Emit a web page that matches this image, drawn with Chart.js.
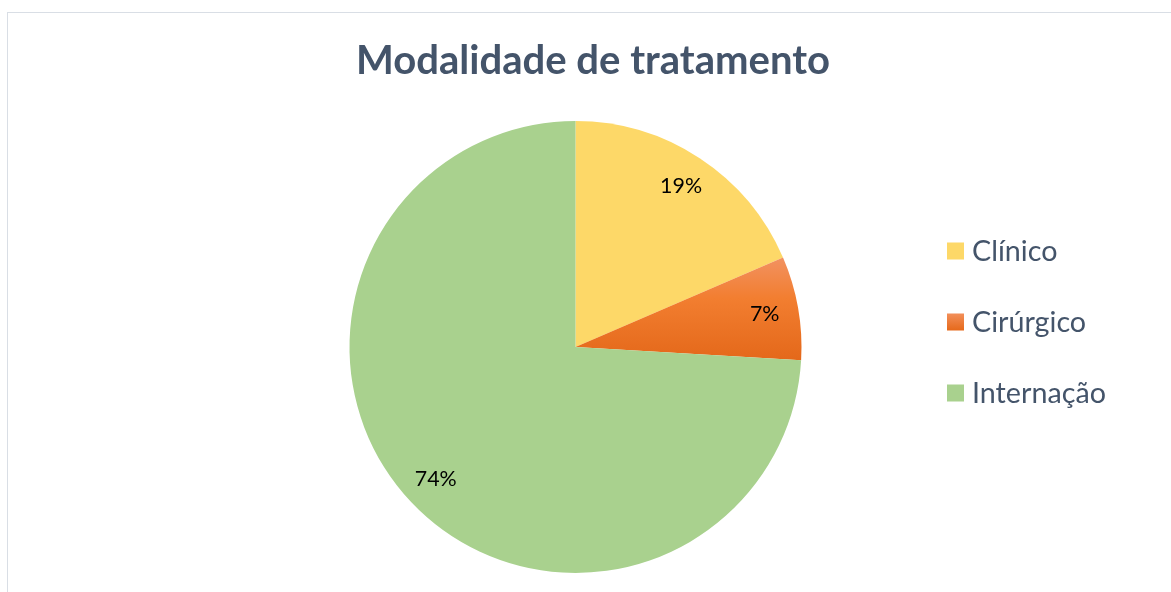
<!DOCTYPE html>
<html>
<head>
<meta charset="utf-8">
<script src="https://cdn.jsdelivr.net/npm/chart.js@4.4.1/dist/chart.umd.min.js"></script>
<style>
  html, body { margin: 0; padding: 0; background: #fff; overflow: hidden; }
  #wrap { position: relative; width: 1171px; height: 592px; }
  #frame { position: absolute; left: 7px; top: 12px; width: 1200px; height: 700px; border: 1px solid #D9DEE5; box-sizing: border-box; }
  #chart { position: absolute; left: 0; top: 0; }
</style>
</head>
<body>
<div id="wrap">
  <div id="frame"></div>
  <canvas id="chart" width="1171" height="592"></canvas>
</div>
<script>
var chartTitle = 'Modalidade de tratamento';
var categories = ['Clínico', 'Cirúrgico', 'Internação'];
var counts = [5, 2, 20];
var sliceColors = ['#FDD868', '#F07A2C', '#A9D18E'];

var textColor = '#44546A';
var fontFamily = 'Lato, "Noto Sans", sans-serif';

// font size that makes a string fill a given width
function fitFont(ctx, text, weight, width) {
    ctx.font = weight + ' 100px ' + fontFamily;
    return 100 * width / ctx.measureText(text).width;
}

var extrasPlugin = {
    id: 'extras',
    afterDraw: function (chart) {
        var ctx = chart.ctx;
        var meta = chart.getDatasetMeta(0);
        var total = counts.reduce(function (a, b) { return a + b; }, 0);
        ctx.save();

        // title
        var ts = fitFont(ctx, chartTitle, 'bold', 474);
        ctx.font = 'bold ' + ts + 'px ' + fontFamily;
        ctx.fillStyle = textColor;
        ctx.textAlign = 'center';
        ctx.textBaseline = 'middle';
        ctx.fillText(chartTitle, 593, 61);

        // data labels
        var ls = fitFont(ctx, '19%', 'normal', 42);
        ctx.font = ls + 'px ' + fontFamily;
        ctx.fillStyle = '#000';
        meta.data.forEach(function (arc, i) {
            var p = arc.getProps(['x', 'y', 'startAngle', 'endAngle', 'outerRadius'], true);
            var mid = (p.startAngle + p.endAngle) / 2;
            var r = p.outerRadius * 0.85;
            var pct = Math.round(counts[i] / total * 100) + '%';
            ctx.fillText(pct, p.x + Math.cos(mid) * r, p.y + Math.sin(mid) * r);
        });

        // legend
        var gs = fitFont(ctx, 'Internação', 'normal', 134);
        ctx.font = gs + 'px ' + fontFamily;
        ctx.textAlign = 'left';
        var lx = 947, ly = 251, step = 71;
        categories.forEach(function (name, i) {
            var y = ly + i * step;
            var bg = chart.data.datasets[0].backgroundColor;
            if (i === 1) {
                var g = ctx.createLinearGradient(0, y - 8, 0, y + 8);
                g.addColorStop(0, '#F28E58');
                g.addColorStop(1, '#E66A1C');
                ctx.fillStyle = g;
            } else {
                ctx.fillStyle = sliceColors[i];
            }
            ctx.fillRect(lx, y - 8.5, 17, 17);
            ctx.fillStyle = textColor;
            ctx.fillText(name, lx + 25, y + 1);
        });
        ctx.restore();
    }
};

new Chart(document.getElementById('chart').getContext('2d'), {
    type: 'pie',
    data: {
        labels: categories,
        datasets: [{
            data: counts,
            backgroundColor: function (c) {
                var i = c.dataIndex;
                var area = c.chart.chartArea;
                if (i === 1 && area) {
                    var cy = (area.top + area.bottom) / 2;
                    var R = (area.bottom - area.top) / 2;
                    var g = c.chart.ctx.createLinearGradient(0, cy - 0.4 * R, 0, cy + 0.06 * R);
                    g.addColorStop(0, '#F29262');
                    g.addColorStop(0.4, '#F27E30');
                    g.addColorStop(1, '#E4681A');
                    return g;
                }
                return sliceColors[i];
            },
            borderWidth: 0
        }]
    },
    options: {
        responsive: false,
        animation: false,
        layout: { padding: { left: 349, right: 369, top: 121, bottom: 19 } },
        plugins: {
            legend: { display: false },
            title: { display: false },
            tooltip: { enabled: false }
        }
    },
    plugins: [extrasPlugin]
});
</script>
</body>
</html>
